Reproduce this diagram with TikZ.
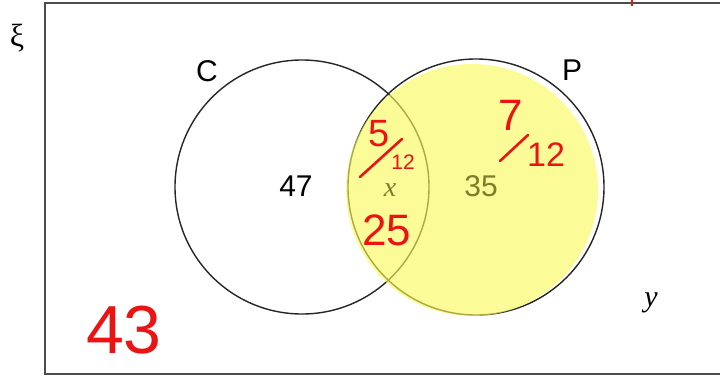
\documentclass[tikz,border=0pt]{standalone}
\usepackage{fontspec}
\setmainfont{Liberation Sans}
\newfontfamily\serifface{Liberation Serif}
\usetikzlibrary{positioning}
\definecolor{inkred}{RGB}{235,20,20}
\definecolor{markyellow}{RGB}{250,250,90}
\definecolor{olivetext}{RGB}{125,125,45}

\begin{document}
\begin{tikzpicture}[
    x=1pt, y=-1pt,
    setline/.style={line width=1.4pt, draw=black!85},
    setname/.style={font=\fontsize{30}{34}\selectfont},
    count/.style={font=\fontsize{30}{34}\selectfont, text=#1},
    ink/.style={inner sep=0pt, text=inkred, font=\fontsize{#1}{#1}\selectfont},
    stroke/.style={draw=inkred, line width=2.6pt, line cap=round},
]
    \useasboundingbox (0,0) rectangle (720,375);
    \fill[white] (0,0) rectangle (720,375);

    % universal set
    \draw[line width=1.3pt, black!70] (780,3) -- (45,3) -- (45,374) -- (780,374);
    \draw[inkred, line width=1.5pt] (632,0) -- (632,6);
    \node[font=\serifface\fontsize{32}{36}\selectfont] (xi) at (17,38) {ξ};

    % circles
    \draw[setline] (302,187) circle[radius=127];
    \draw[setline] (476,187) circle[radius=128];
    \fill[markyellow, opacity=0.62] (472,190) circle[radius=126];

    \node[setname] (lc) at (207,71) {C};
    \node[setname] (lp) at (572,70) {P};

    % counts
    \node[count=black] (nc) at (296,186) {47};
    \node[count=olivetext, font=\serifface\itshape\fontsize{28}{32}\selectfont] (nx) at (390,190) {x};
    \node[count=olivetext] (np) at (481,186) {35};
    \node[font=\serifface\itshape\fontsize{30}{34}\selectfont] (ny) at (651,303) {y};

    % Labels
    \node[ink=38] (bnum) at (379,134) {5};
    \node[ink=21] (bden) at (403,162) {12};
    \coordinate (bslA) at (360,177);
    \coordinate (bslB) at (402,139);
    \draw[stroke] (bslA) -- (bslB);
    \node[ink=44] (nboth) at (387,230) {25};

    \node[ink=44] (pnum) at (511,115) {7};
    \node[ink=34] (pden) at (546,155) {12};
    \coordinate (pslA) at (500,161);
    \coordinate (pslB) at (528,135);
    \draw[stroke] (pslA) -- (pslB);

    \node[ink=68] (nout) at (124,330) {43};
\end{tikzpicture}
\end{document}
